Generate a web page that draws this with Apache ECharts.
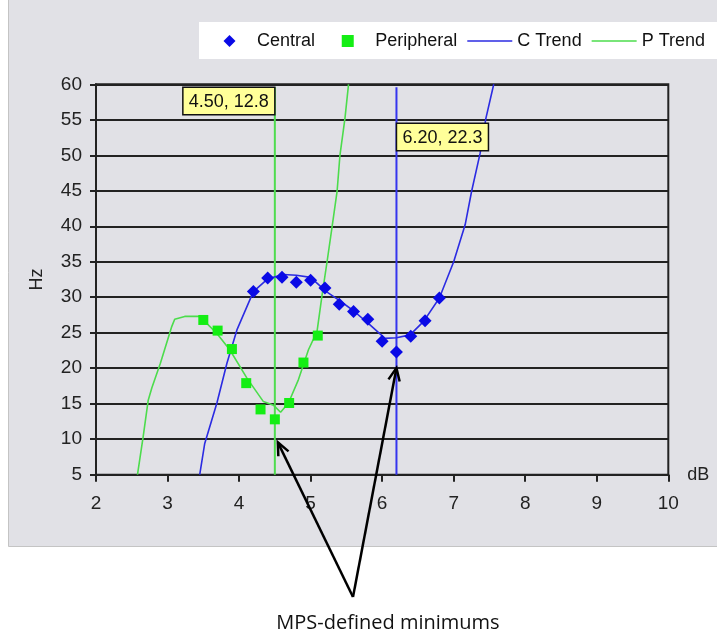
<!DOCTYPE html>
<html><head><meta charset="utf-8">
<script src="https://cdn.jsdelivr.net/npm/echarts@6/dist/echarts.min.js"></script>
<style>html,body{margin:0;padding:0;background:#fff}#c{width:717px;height:634px}</style>
</head><body><div id="c"></div>
<script>
// ---- data ----
const centralX = [4.2, 4.4, 4.6, 4.8, 5.0, 5.2, 5.4, 5.6, 5.8, 6.0, 6.2, 6.4, 6.6, 6.8];
const centralY = [30.8, 32.7, 32.8, 32.1, 32.4, 31.3, 29.0, 28.0, 26.9, 23.8, 22.3, 24.5, 26.7, 29.9];
const periphX = [3.5, 3.7, 3.9, 4.1, 4.3, 4.5, 4.7, 4.9, 5.1];
const periphY = [26.8, 25.3, 22.7, 17.9, 14.2, 12.8, 15.1, 20.8, 24.6];
const cTrendX = [3.45, 3.52, 3.69, 3.83, 3.97, 4.2, 4.4, 4.62, 4.8, 5.0, 5.22, 5.41, 5.6, 5.83, 6.04, 6.2, 6.39, 6.58, 6.8, 7.0, 7.16, 7.25, 7.37, 7.45, 7.56];
const cTrendY = [5, 9.4, 15.1, 20.7, 25.4, 30.8, 32.6, 33.2, 33.1, 32.8, 30.8, 29.5, 28.1, 26.1, 24.2, 24.3, 24.7, 26.6, 29.9, 35.0, 40.2, 44.9, 50.3, 55.2, 60];
const pTrendX = [2.58, 2.66, 2.73, 2.78, 2.9, 3.06, 3.1, 3.24, 3.45, 3.69, 3.87, 4.11, 4.34, 4.48, 4.58, 4.69, 4.83, 4.97, 5.09, 5.16, 5.23, 5.3, 5.37, 5.41, 5.48, 5.53];
const pTrendY = [5, 10.4, 15.5, 17.2, 20.7, 25.9, 26.9, 27.3, 27.3, 24.9, 22.6, 18.6, 15.3, 14.8, 13.8, 15.1, 18.4, 22.6, 25.2, 30.3, 35.0, 39.9, 44.9, 50.0, 55.2, 60];
const minP = [4.5, 12.8];
const minC = [6.2, 22.3];
const lineTop = 59.6;
const xTicks = [2, 3, 4, 5, 6, 7, 8, 9, 10];
const yTicks = [5, 10, 15, 20, 25, 30, 35, 40, 45, 50, 55, 60];
const noteText = 'MPS-defined minimums';

const zip = (a, b) => a.map((v, i) => [v, b[i]]);
const FONT = '"Liberation Sans", Arial, sans-serif';
const BG = '#E1E1E6';
const LINE_ICON = 'path://M0,0h100v3.6h-100z';
const DIAMOND_ICON = 'path://M6,0L12,6L6,12L0,6Z';
const SQUARE_ICON = 'path://M0,0h10v10h-10z';

const chart = echarts.init(document.getElementById('c'), null, {renderer: 'canvas'});
const baseRect = {id: 'bg', type: 'rect', z: -10, silent: true,
  shape: {x: 8.5, y: -2, width: 720, height: 548.5},
  style: {fill: BG, stroke: '#C4C4C4', lineWidth: 1}};
const legendCommon = {
  top: 22, backgroundColor: '#fff', itemGap: 10, itemWidth: 45, itemHeight: 12, symbolKeepAspect: true,
  textStyle: {fontFamily: FONT, fontSize: 18, color: '#111'}
};

chart.setOption({
  backgroundColor: '#fff',
  animation: false,
  graphic: {elements: [baseRect]},
  legend: [
    Object.assign({}, legendCommon, {left: 199, padding: [10, 24, 9, 24.5],
      data: [{name: 'Central', icon: DIAMOND_ICON}]}),
    Object.assign({}, legendCommon, {right: 0, padding: [10, 12, 9, 4],
      data: [{name: 'Peripheral', icon: SQUARE_ICON},
        {name: 'C Trend', icon: LINE_ICON}, {name: 'P Trend', icon: LINE_ICON}]})
  ],
  grid: {left: 96, right: 48.7, top: 84.3, bottom: 159.3, show: true,
    backgroundColor: BG, borderColor: '#222', borderWidth: 2},
  xAxis: {
    type: 'value', min: xTicks[0], max: xTicks[xTicks.length - 1], interval: 1,
    name: 'dB', nameLocation: 'end', nameGap: 19,
    nameTextStyle: {fontFamily: FONT, fontSize: 18, color: '#222', verticalAlign: 'middle'},
    axisLine: {onZero: false, lineStyle: {color: '#222', width: 2}},
    axisTick: {length: 7, lineStyle: {color: '#222', width: 2}},
    axisLabel: {margin: 20, fontFamily: FONT, fontSize: 19, color: '#222'},
    splitLine: {show: false}
  },
  yAxis: {
    type: 'value', min: yTicks[0], max: yTicks[yTicks.length - 1], interval: 5,
    name: 'Hz', nameLocation: 'middle', nameGap: 50, nameRotate: 90,
    nameTextStyle: {fontFamily: FONT, fontSize: 18, color: '#222'},
    axisLine: {onZero: false, lineStyle: {color: '#222', width: 2}},
    axisTick: {length: 6, lineStyle: {color: '#222', width: 2}},
    axisLabel: {margin: 14, fontFamily: FONT, fontSize: 19, color: '#222'},
    splitLine: {show: true, lineStyle: {color: '#222', width: 2}}
  },
  series: [
    {name: 'P min', type: 'line', data: [[minP[0], yTicks[0]], [minP[0], lineTop]], symbol: 'none',
      lineStyle: {color: '#4FDC4F', width: 2}, z: 2, silent: true},
    {name: 'C min', type: 'line', data: [[minC[0], yTicks[0]], [minC[0], lineTop]], symbol: 'none',
      lineStyle: {color: '#3434EE', width: 2}, z: 2, silent: true},
    {name: 'C Trend', type: 'line', data: zip(cTrendX, cTrendY), symbol: 'none', showSymbol: false,
      lineStyle: {color: '#2B2BE2', width: 1.6}, itemStyle: {color: '#2B2BE2'}, z: 3},
    {name: 'P Trend', type: 'line', data: zip(pTrendX, pTrendY), symbol: 'none', showSymbol: false,
      lineStyle: {color: '#4CDC4C', width: 1.6}, itemStyle: {color: '#4CDC4C'}, z: 3},
    {name: 'Central', type: 'scatter', data: zip(centralX, centralY), symbol: 'diamond', symbolSize: 13,
      itemStyle: {color: '#0A0AE6', opacity: 1}, z: 4},
    {name: 'Peripheral', type: 'scatter', data: zip(periphX, periphY), symbol: 'rect', symbolSize: 10,
      itemStyle: {color: '#14EE14', opacity: 1}, z: 4}
  ]
});

// ---- annotations ----
const px = p => chart.convertToPixel({gridIndex: 0}, p);
function arrowEls(tip, apex, id) {
  const dx = apex[0] - tip[0], dy = apex[1] - tip[1];
  const L = Math.hypot(dx, dy), ux = dx / L, uy = dy / L;
  const a = 24 * Math.PI / 180, h = 14;
  const w1 = [tip[0] + h * (ux * Math.cos(a) - uy * Math.sin(a)), tip[1] + h * (ux * Math.sin(a) + uy * Math.cos(a))];
  const w2 = [tip[0] + h * (ux * Math.cos(-a) - uy * Math.sin(-a)), tip[1] + h * (ux * Math.sin(-a) + uy * Math.cos(-a))];
  return [
    {id: id + 's', type: 'polyline', z: 50, silent: true, shape: {points: [tip, apex]}, style: {stroke: '#000', lineWidth: 2.5, fill: null}},
    {id: id + 'h', type: 'polyline', z: 50, silent: true, shape: {points: [w1, tip, w2]}, style: {stroke: '#000', lineWidth: 2.5, fill: null}}
  ];
}
function labelBox(anchor, text, alignRight, id) {
  const w = 92, h = 27.5;
  const x = alignRight ? anchor[0] - w : anchor[0];
  const y = anchor[1];
  return [
    {id: id + 'r', type: 'rect', z: 60, silent: true, shape: {x: x, y: y, width: w, height: h},
      style: {fill: '#FFFF99', stroke: '#111', lineWidth: 1.5}},
    {id: id + 't', type: 'text', z: 61, silent: true,
      style: {x: x + w / 2, y: y + h / 2 + 1, text: text, align: 'center', verticalAlign: 'middle',
        font: '18px ' + FONT, fill: '#111'}}
  ];
}
const pP = px(minP), pC = px(minC);
const apex = [353, 597];
const tipP = [pP[0] + 3, pP[1] + 23];
const tipC = [pC[0], pC[1] + 16];
const boxP = px([minP[0], lineTop]);
const boxC = px([minC[0], 54.5]);
chart.setOption({graphic: {elements: [
  baseRect,
  ...arrowEls(tipP, apex, 'a1'),
  ...arrowEls(tipC, apex, 'a2'),
  ...labelBox(boxP, minP[0].toFixed(2) + ', ' + minP[1].toFixed(1), true, 'l1'),
  ...labelBox(boxC, minC[0].toFixed(2) + ', ' + minC[1].toFixed(1), false, 'l2'),
  {id: 'note', type: 'text', z: 50, silent: true,
    style: {x: 388, y: 623, text: noteText, align: 'center', verticalAlign: 'middle',
      font: '20px "Open Sans", "Noto Sans", sans-serif', fill: '#111'}}
]}});
</script>
</body></html>
